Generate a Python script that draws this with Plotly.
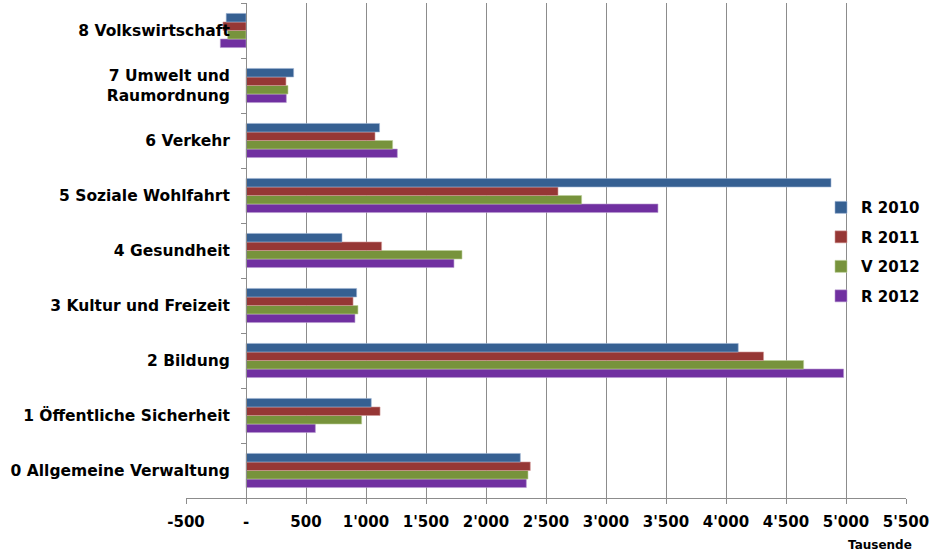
import plotly.graph_objects as go

categories = [
    "0 Allgemeine Verwaltung",
    "1 Öffentliche Sicherheit",
    "2 Bildung",
    "3 Kultur und Freizeit",
    "4 Gesundheit",
    "5 Soziale Wohlfahrt",
    "6 Verkehr",
    "7 Umwelt und<br>Raumordnung",
    "8 Volkswirtschaft",
]

r2010 = [2286, 1044, 4102, 922, 800, 4875, 1113, 397, -165]
r2011 = [2369, 1117, 4313, 892, 1130, 2600, 1075, 333, -192]
v2012 = [2350, 964, 4647, 933, 1800, 2797, 1222, 350, -153]
r2012 = [2336, 578, 4980, 908, 1733, 3433, 1261, 336, -214]

series_names = ["R 2010", "R 2011", "V 2012", "R 2012"]
series_values = [r2010, r2011, v2012, r2012]
colors = ["#366092", "#963735", "#77933C", "#7030A0"]
edge_colors = ["#9DB3D3", "#D29A98", "#BDD19A", "#B597CF"]

tick_vals = [-500, 0, 500, 1000, 1500, 2000, 2500, 3000, 3500, 4000, 4500, 5000, 5500]
tick_text = ["-500", "-", "500", "1'000", "1'500", "2'000", "2'500", "3'000",
             "3'500", "4'000", "4'500", "5'000", "5'500"]

FONT = "DejaVu Sans"

fig = go.Figure()
items = list(zip(series_names, series_values, colors, edge_colors))
# add in reverse so that R 2010 sits on top within each group
for rank_from_top, (name, vals, col, ecol) in reversed(list(enumerate(items))):
    fig.add_trace(go.Bar(
        y=categories, x=vals, name=name, orientation="h",
        marker=dict(color=col, line=dict(color=ecol, width=0.6)),
        legendgroup=name, legendrank=rank_from_top + 1,
    ))

L, R, T, B = 186, 25, 3, 57
W, H = 931, 555
pw = W - L - R

fig.update_layout(
    width=W, height=H,
    margin=dict(l=L, r=R, t=T, b=B),
    paper_bgcolor="white", plot_bgcolor="white",
    barmode="group", bargap=0.38, bargroupgap=0,
    font=dict(family=FONT, color="black"),
    showlegend=True,
    legend=dict(
        x=(821 - L) / pw, y=0.62, xanchor="left", yanchor="top",
        traceorder="grouped", tracegroupgap=7,
        bgcolor="rgba(0,0,0,0)",
        font=dict(family=FONT, size=15, weight="bold", color="black"),
    ),
    xaxis=dict(
        range=[-500, 5500],
        tickvals=tick_vals, ticktext=tick_text,
        showgrid=True, gridcolor="#8C8C8C", gridwidth=1,
        zeroline=False,
        showline=True, linecolor="#8C8C8C", linewidth=1,
        ticks="outside", ticklen=5, tickcolor="#8C8C8C",
        ticklabelstandoff=5,
        tickfont=dict(family=FONT, size=15, weight="bold", color="black"),
    ),
    yaxis=dict(
        anchor="free", position=(0 - (-500)) / 6000,
        showgrid=False, zeroline=False,
        showline=True, linecolor="#8C8C8C", linewidth=1,
        ticks="outside", ticklen=5, tickcolor="#8C8C8C",
        tickson="boundaries",
        ticklabelstandoff=13,
        tickfont=dict(family=FONT, size=15.5, weight="bold", color="black"),
    ),
    annotations=[dict(
        text="Tausende", xref="paper", yref="paper",
        x=(880 - L) / pw, y=-(545 - (H - B)) / (H - T - B),
        xanchor="center", yanchor="middle", showarrow=False,
        font=dict(family=FONT, size=12, weight="bold", color="black"),
    )],
)

fig.write_html("out.html")
